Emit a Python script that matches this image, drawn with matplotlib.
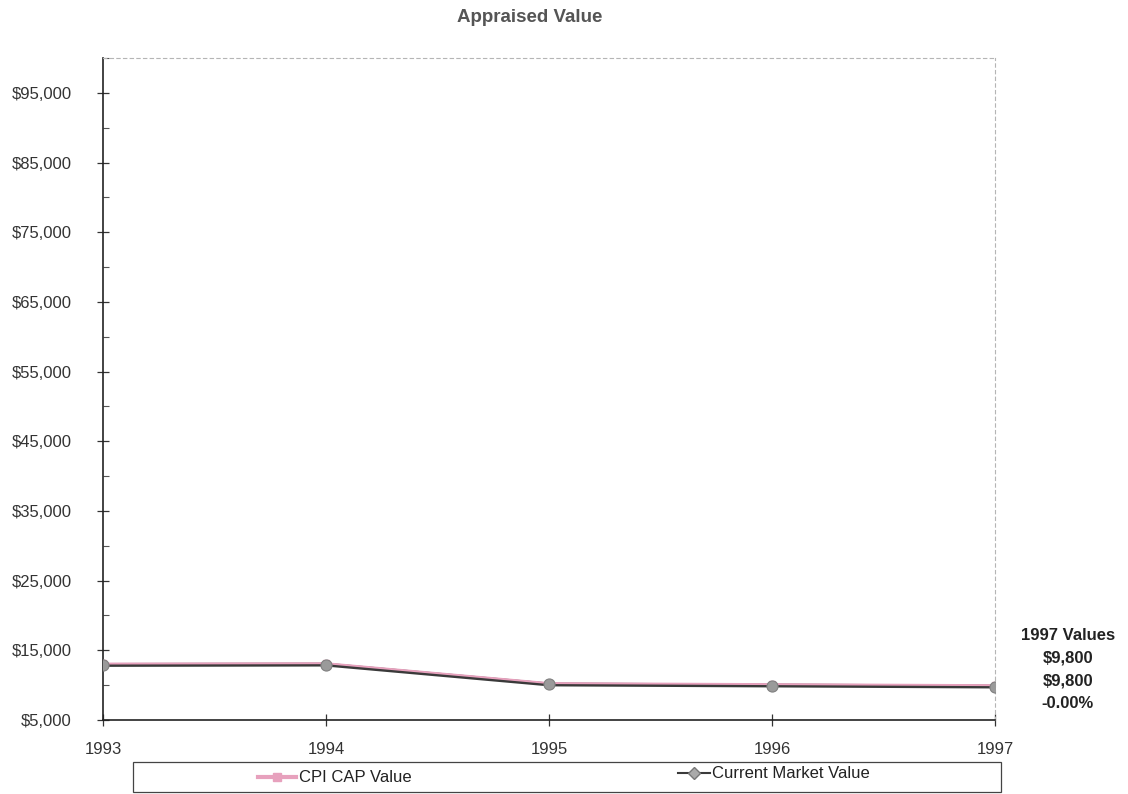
import matplotlib
matplotlib.use("Agg")
import matplotlib.pyplot as plt
from matplotlib.lines import Line2D
from matplotlib.patches import Rectangle
from matplotlib.ticker import FuncFormatter, MultipleLocator, FixedLocator
import matplotlib.patheffects as pe

plt.rcParams['font.family'] = ['Liberation Sans', 'DejaVu Sans']

# ---- data ----
years = ['1993', '1994', '1995', '1996', '1997']
cpi_cap_value = [12900, 12950, 10100, 9950, 9800]
current_market_value = [12900, 12950, 10100, 9950, 9800]
y_ticks = [5000, 15000, 25000, 35000, 45000, 55000, 65000, 75000, 85000, 95000]
summary_lines = ['1997 Values', '$9,800', '$9,800', '-0.00%']
title = 'Appraised Value'

W, H = 1128, 794
fig = plt.figure(figsize=(W / 100, H / 100), dpi=100)
fig.patch.set_facecolor('white')

def fx(px):
    return px / W

def fy(py):
    return 1 - py / H

ax = fig.add_axes([fx(103), fy(720), fx(995) - fx(103), fy(58) - fy(720)])
x = list(range(len(years)))

pink = '#e7a1bd'
dark = '#3a3a3a'
marker_gray = '#9a9a9a'

# market line underneath, pink line on top (drawn with a slight upward offset),
# market markers on top
ax.plot(x, current_market_value, color=dark, lw=2.8, zorder=3, solid_capstyle='round')
ax.plot(x, cpi_cap_value, color=pink, lw=1.4, marker='s', ms=5, mfc=pink, mec=pink,
        zorder=4, path_effects=[pe.Stroke(offset=(0, 1.0))])
ax.plot(x, current_market_value, linestyle='none', marker='o', ms=8,
        mfc=marker_gray, mec='#808080', mew=0.8, zorder=5)

ax.set_xlim(0, len(years) - 1)
ax.set_ylim(5000, 100000)

ax.xaxis.set_major_locator(FixedLocator(x))
ax.set_xticklabels(years)
ax.yaxis.set_major_locator(FixedLocator(y_ticks))
ax.yaxis.set_minor_locator(MultipleLocator(10000))
ax.yaxis.set_major_formatter(FuncFormatter(lambda v, p: '${:,.0f}'.format(v)))

ax.tick_params(axis='y', which='major', direction='inout', length=9, width=0.9,
               colors='#333333', labelsize=12, pad=18)
ax.tick_params(axis='y', which='minor', direction='in', length=4, width=0.8, color='#555555')
ax.tick_params(axis='x', which='major', direction='inout', length=9, width=0.9,
               colors='#333333', labelsize=12, pad=11)

for s in ['left', 'bottom']:
    ax.spines[s].set_color('#222222')
    ax.spines[s].set_linewidth(1.2)
for s in ['top', 'right']:
    ax.spines[s].set_color('#b5b5b5')
    ax.spines[s].set_linewidth(0.8)
    ax.spines[s].set_linestyle((0, (3, 3)))

# title
fig.text(fx(530), fy(17), title, ha='center', va='center', fontsize=13.5,
         fontweight='bold', color='#555555')

# summary text at right
for txt, py in zip(summary_lines, [636, 658, 681, 704]):
    fig.text(fx(1068), fy(py), txt, ha='center', va='center', fontsize=12,
             fontweight='bold', color='#222222')

# legend box
fig.add_artist(Rectangle((fx(133), fy(792)), fx(1001) - fx(133), fy(762) - fy(792),
                         transform=fig.transFigure, fill=False, edgecolor='#444444',
                         lw=0.9))

h_cpi = Line2D([], [], color=pink, lw=3, marker='s', ms=6, mfc=pink, mec=pink)
h_mkt = Line2D([], [], color=dark, lw=1.5, marker='D', ms=6, mfc='#aaaaaa', mec='#777777')

leg1 = fig.legend(handles=[h_cpi], labels=['CPI CAP Value'], loc='center left',
                  bbox_to_anchor=(fx(258), fy(778)), frameon=False, fontsize=12,
                  handlelength=2.3, handletextpad=0.15, borderpad=0, borderaxespad=0)
for t in leg1.get_texts():
    t.set_color('#222222')
leg2 = fig.legend(handles=[h_mkt], labels=['Current Market Value'], loc='center left',
                  bbox_to_anchor=(fx(678), fy(774)), frameon=False, fontsize=12,
                  handlelength=1.9, handletextpad=0.15, borderpad=0, borderaxespad=0)
for t in leg2.get_texts():
    t.set_color('#222222')

fig.savefig('out.png', dpi=100, facecolor='white')
